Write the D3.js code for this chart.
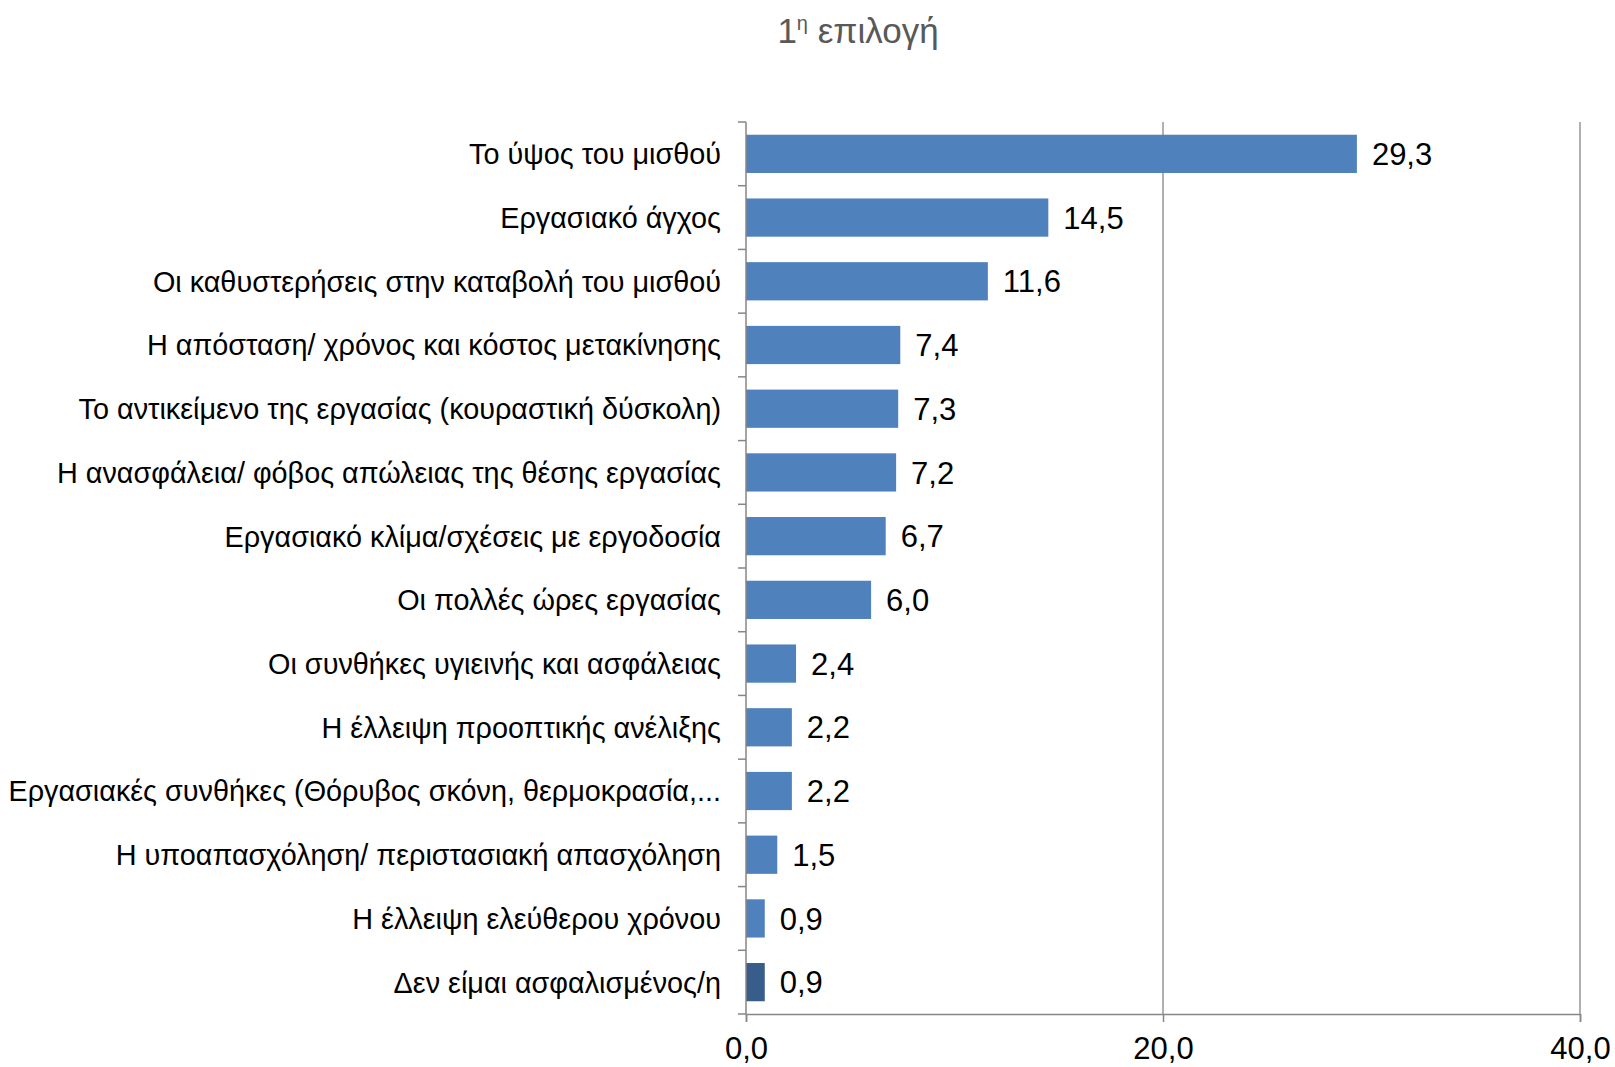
<!DOCTYPE html>
<html>
<head>
<meta charset="utf-8">
<script src="https://cdn.jsdelivr.net/npm/d3@7"></script>
<style>
  body { margin: 0; background: #fff; }
  svg text { font-family: "Liberation Sans", Arial, sans-serif; }
</style>
</head>
<body>
<div id="chart"></div>
<script>
// data
var categories = [
  "Το ύψος του μισθού",
  "Εργασιακό άγχος",
  "Οι καθυστερήσεις στην καταβολή του μισθού",
  "Η απόσταση/  χρόνος και κόστος μετακίνησης",
  "Το αντικείμενο της εργασίας (κουραστική δύσκολη)",
  "Η ανασφάλεια/ φόβος απώλειας της θέσης εργασίας",
  "Εργασιακό κλίμα/σχέσεις με εργοδοσία",
  "Οι πολλές ώρες εργασίας",
  "Οι συνθήκες υγιεινής και ασφάλειας",
  "Η έλλειψη προοπτικής ανέλιξης",
  "Εργασιακές συνθήκες (Θόρυβος σκόνη, θερμοκρασία,...",
  "Η υποαπασχόληση/ περιστασιακή απασχόληση",
  "Η έλλειψη ελεύθερου χρόνου",
  "Δεν είμαι ασφαλισμένος/η"
];
var values = [29.3, 14.5, 11.6, 7.4, 7.3, 7.2, 6.7, 6.0, 2.4, 2.2, 2.2, 1.5, 0.9, 0.9];
var xTicks = [0, 20, 40];
var title = "επιλογή";

var width = 1615, height = 1067;
var margin = {top: 122, right: 35, bottom: 53, left: 746};

var svg = d3.select("#chart").append("svg")
  .attr("width", width)
  .attr("height", height);

var x = d3.scaleLinear()
  .domain([0, 40])
  .range([margin.left, width - margin.right]);

var y = d3.scaleBand()
  .domain(categories)
  .range([margin.top, height - margin.bottom])
  .paddingInner(0.4)
  .paddingOuter(0.2);

var fmt = function(v) { return d3.format(".1f")(v).replace(".", ","); };

// gridlines
svg.append("g")
  .selectAll("line")
  .data(xTicks.filter(function(d) { return d > 0; }))
  .enter().append("line")
  .attr("x1", function(d) { return x(d); })
  .attr("x2", function(d) { return x(d); })
  .attr("y1", margin.top)
  .attr("y2", height - margin.bottom)
  .attr("stroke", "#868686")
  .attr("stroke-width", 1.3);

// bars
svg.append("g")
  .selectAll("rect")
  .data(values)
  .enter().append("rect")
  .attr("x", x(0))
  .attr("y", function(d, i) { return y(categories[i]); })
  .attr("width", function(d) { return x(d) - x(0); })
  .attr("height", y.bandwidth())
  .attr("fill", function(d, i) { return i === categories.length - 1 ? "#385D8A" : "#4F81BD"; });

// value labels
svg.append("g")
  .selectAll("text")
  .data(values)
  .enter().append("text")
  .attr("x", function(d) { return x(d) + 15; })
  .attr("y", function(d, i) { return y(categories[i]) + y.bandwidth() / 2; })
  .attr("dy", "0.36em")
  .attr("font-size", 31)
  .attr("fill", "#000")
  .text(function(d) { return fmt(d); });

// left axis (category)
var yAxisG = svg.append("g");
yAxisG.append("line")
  .attr("x1", x(0)).attr("x2", x(0))
  .attr("y1", margin.top).attr("y2", height - margin.bottom)
  .attr("stroke", "#868686").attr("stroke-width", 1.5);
var bounds = d3.range(categories.length + 1).map(function(i) {
  return margin.top + i * (height - margin.top - margin.bottom) / categories.length;
});
yAxisG.selectAll("line.tick")
  .data(bounds)
  .enter().append("line")
  .attr("class", "tick")
  .attr("x1", x(0) - 8).attr("x2", x(0))
  .attr("y1", function(d) { return d; })
  .attr("y2", function(d) { return d; })
  .attr("stroke", "#868686").attr("stroke-width", 1.5);
yAxisG.selectAll("text")
  .data(categories)
  .enter().append("text")
  .attr("x", x(0) - 25)
  .attr("y", function(d) { return y(d) + y.bandwidth() / 2; })
  .attr("dy", "0.36em")
  .attr("text-anchor", "end")
  .attr("font-size", 28.8)
  .attr("fill", "#000")
  .text(function(d) { return d; });

// bottom axis
var xAxis = d3.axisBottom(x)
  .tickValues(xTicks)
  .tickSize(8)
  .tickFormat(fmt);
var xAxisG = svg.append("g")
  .attr("transform", "translate(0," + (height - margin.bottom) + ")")
  .call(xAxis);
xAxisG.select(".domain").attr("stroke", "#868686").attr("stroke-width", 1.5);
xAxisG.selectAll(".tick line").attr("stroke", "#868686").attr("stroke-width", 1.5);
xAxisG.selectAll(".tick text")
  .attr("font-size", 31)
  .attr("fill", "#000")
  .attr("font-family", "Liberation Sans, Arial, sans-serif")
  .attr("y", 45)
  .attr("dy", 0);

// title
var t = svg.append("text")
  .attr("x", 858)
  .attr("y", 43)
  .attr("text-anchor", "middle")
  .attr("font-size", 35)
  .attr("fill", "#595959");
t.append("tspan").text("1");
t.append("tspan").attr("font-size", 20).attr("dy", -13).text("η");
t.append("tspan").attr("dy", 13).text(" " + title);
</script>
</body>
</html>
